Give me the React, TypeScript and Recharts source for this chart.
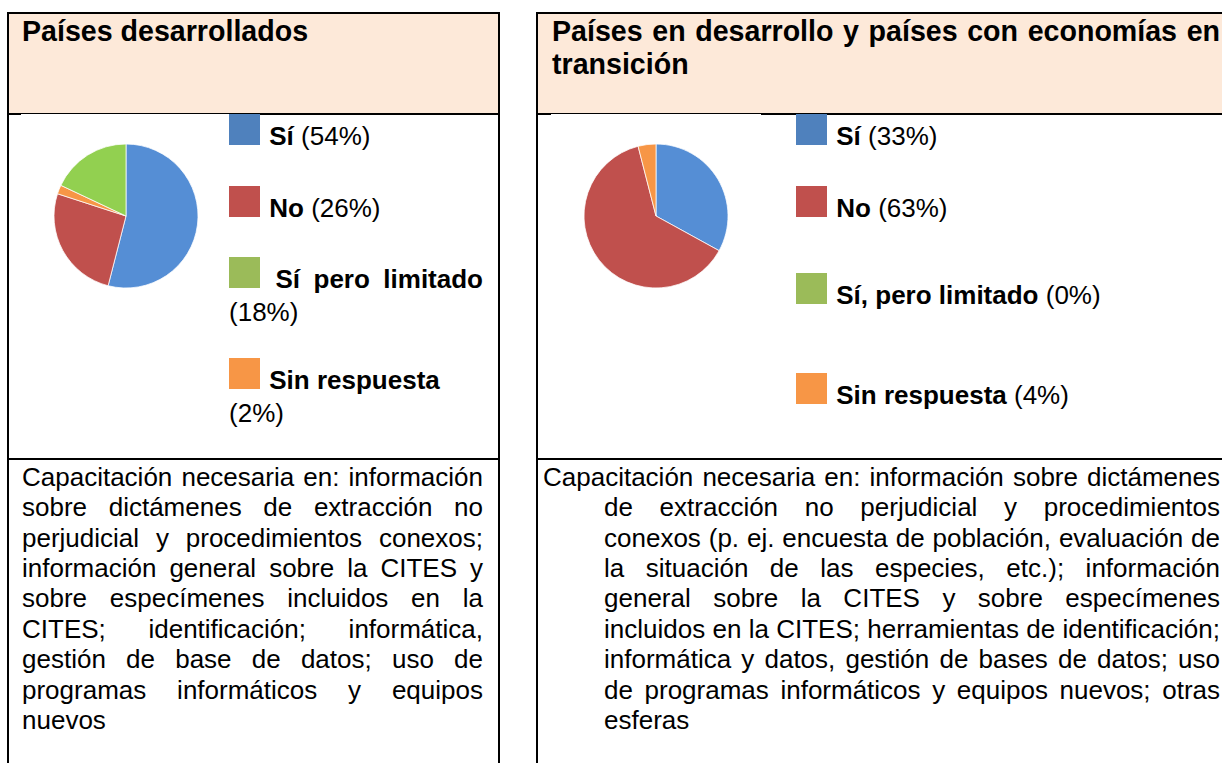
import React from 'react';
import { PieChart, Pie, Cell } from 'recharts';

// Survey shares (%)
const labelsLeft = ['Sí', 'No', 'Sí pero limitado', 'Sin respuesta'];
const labelsRight = ['Sí', 'No', 'Sí, pero limitado', 'Sin respuesta'];
const valuesLeft = [54, 26, 18, 2];
const valuesRight = [33, 63, 0, 4];
// slices go clockwise from 12 o'clock in this order (indexes into the arrays above)
const sliceOrder = [0, 1, 3, 2];
const pieColors = ['#558ED5', '#C0504D', '#92D050', '#F79646'];
const legendColors = ['#4F81BD', '#C0504D', '#9BBB59', '#F79646'];

const titleLeft = 'Países desarrollados';
const titleRight = 'Países en desarrollo y países con economías en transición';

// the notes are set line by line, as in the original document
const notesLeft = [
  'Capacitación necesaria en: información',
  'sobre dictámenes de extracción no',
  'perjudicial y procedimientos conexos;',
  'información general sobre la CITES y',
  'sobre especímenes incluidos en la',
  'CITES; identificación; informática,',
  'gestión de base de datos; uso de',
  'programas informáticos y equipos',
  'nuevos',
];
const notesRight = [
  'Capacitación necesaria en: información sobre dictámenes',
  'de extracción no perjudicial y procedimientos',
  'conexos (p. ej. encuesta de población, evaluación de',
  'la situación de las especies, etc.); información',
  'general sobre la CITES y sobre especímenes',
  'incluidos en la CITES; herramientas de identificación;',
  'informática y datos, gestión de bases de datos; uso',
  'de programas informáticos y equipos nuevos; otras',
  'esferas',
];

const FONT = "'Liberation Sans', Arial, Helvetica, sans-serif";
const HEADER_BG = '#FDE9D9';
const NOTE_TOP = 461.8;
const NOTE_PITCH = 30.4;

const SharePie = ({ values, labels, left, top }: { values: number[]; labels: string[]; left: number; top: number }) => {
  const data = sliceOrder.map(i => ({ name: labels[i], value: values[i], color: pieColors[i] }));
  return (
    <div style={{ position: 'absolute', left, top, width: 200, height: 200 }}>
      <PieChart width={200} height={200} margin={{ top: 0, right: 0, bottom: 0, left: 0 }}>
        <Pie
          data={data}
          dataKey="value"
          nameKey="name"
          cx={100}
          cy={100}
          outerRadius={72}
          startAngle={90}
          endAngle={-270}
          stroke="#ffffff"
          strokeWidth={0.75}
          isAnimationActive={false}
        >
          {data.map(d => (
            <Cell key={d.name} fill={d.color} />
          ))}
        </Pie>
      </PieChart>
    </div>
  );
};

const LegendItem = ({ label, value, color, left, top, width, justify }: any) => (
  <div style={{
    position: 'absolute', left, top, width,
    fontSize: 26, lineHeight: '33px', color: '#000',
    textAlign: justify ? 'justify' : 'left'
  }}>
    <span style={{ display: 'inline-block', width: 31, height: 31, background: color, marginRight: 2, verticalAlign: 'baseline' }} />
    {' '}<b>{label}</b> ({value}%)
  </div>
);

const NoteLines = ({ lines, left, width, firstLeft, firstWidth }: any) => (
  <>
    {lines.map((line: string, i: number) => {
      const last = i === lines.length - 1;
      return (
        <div key={i} style={{
          position: 'absolute',
          left: i === 0 ? firstLeft : left,
          width: i === 0 ? firstWidth : width,
          top: NOTE_TOP + i * NOTE_PITCH,
          fontSize: 26, lineHeight: NOTE_PITCH + 'px', whiteSpace: 'nowrap',
          textAlign: last ? 'left' : 'justify',
          textAlignLast: last ? 'left' : 'justify'
        }}>{line}</div>
      );
    })}
  </>
);

const Rule = ({ left, top, width, height, color = '#000' }: any) => (
  <div style={{ position: 'absolute', left, top, width, height, background: color }} />
);

export default function App() {
  return (
    <div style={{
      position: 'absolute', left: 0, top: 0, width: 1222, height: 763,
      overflow: 'hidden', background: '#fff', fontFamily: FONT, color: '#000'
    }}>
      {/* header fills */}
      <Rule left={9} top={14} width={489} height={99} color={HEADER_BG} />
      <Rule left={538} top={14} width={700} height={99} color={HEADER_BG} />

      {/* panel frames */}
      <div style={{ position: 'absolute', left: 7, top: 12, width: 493, height: 800, border: '2px solid #000', boxSizing: 'border-box' }} />
      <div style={{ position: 'absolute', left: 536, top: 12, width: 800, height: 800, border: '2px solid #000', boxSizing: 'border-box' }} />
      <Rule left={7} top={112.5} width={493} height={2} />
      <Rule left={536} top={113} width={700} height={2} />
      <Rule left={7} top={457.5} width={493} height={2} />
      <Rule left={536} top={458} width={700} height={2} />
      {/* chart picture overlaps the header rule slightly */}
      <Rule left={21} top={113.5} width={208} height={1} color="#fff" />
      <Rule left={551} top={114} width={210} height={1} color="#fff" />

      {/* titles */}
      <div style={{ position: 'absolute', left: 22, top: 14.5, width: 461, fontSize: 28.6, fontWeight: 700, lineHeight: '33px' }}>
        {titleLeft}
      </div>
      <div style={{ position: 'absolute', left: 552, top: 14.5, width: 668, fontSize: 28.6, fontWeight: 700, lineHeight: '33px', textAlign: 'justify' }}>
        {titleRight}
      </div>

      {/* pies */}
      <SharePie values={valuesLeft} labels={labelsLeft} left={26} top={116} />
      <SharePie values={valuesRight} labels={labelsRight} left={556} top={116} />

      {/* legends */}
      {[114, 186, 257, 358].map((top, i) => (
        <LegendItem key={i} label={labelsLeft[i]} value={valuesLeft[i]} color={legendColors[i]}
          left={229} top={top} width={254} justify={i === 2} />
      ))}
      {[114, 186, 273, 373].map((top, i) => (
        <LegendItem key={i} label={labelsRight[i]} value={valuesRight[i]} color={legendColors[i]}
          left={796} top={top} width={400} justify={false} />
      ))}

      {/* notes */}
      <NoteLines lines={notesLeft} left={22} width={461} firstLeft={22} firstWidth={461} />
      <NoteLines lines={notesRight} left={604} width={616} firstLeft={543} firstWidth={677} />
    </div>
  );
}
